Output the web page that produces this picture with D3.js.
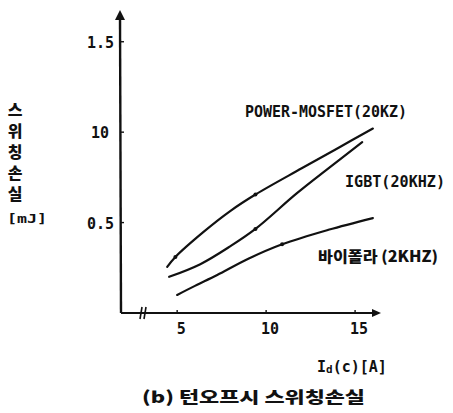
<!DOCTYPE html>
<html>
<head>
<meta charset="utf-8">
<script src="https://cdn.jsdelivr.net/npm/d3@7"></script>
<style>
  body { margin: 0; background: #fff; }
  svg { display: block; }
  .lbl { font-family: "DejaVu Sans Mono", monospace; font-weight: bold; fill: #111; }
  .kr { font-family: "Noto Sans CJK KR", sans-serif; font-weight: 900; fill: #111; }
</style>
</head>
<body>
<script>
// values: [Id (A), loss (mJ)]
const mosfet = [[4.44,0.255],[4.9,0.31],[6.5,0.45],[8.0,0.565],[9.4,0.655],[12,0.8],[14,0.91],[16,1.02]];
const igbt = [[4.55,0.2],[6.3,0.27],[8.0,0.37],[9.4,0.465],[11.7,0.66],[13.5,0.8],[15.4,0.945]];
const bipolar = [[5.0,0.1],[6.0,0.15],[7.25,0.21],[9.0,0.3],[10.9,0.38],[13.5,0.46],[16.0,0.525]];
// little marks drawn on the curves
const marks = [[4.9,0.31],[9.4,0.655],[9.4,0.465],[10.9,0.38]];

const xTicks = [5, 10, 15];
const xTickLabels = ["5", "10", "15"];
const yTicks = [0.5, 1.0, 1.5];
const yTickLabels = ["0.5", "10", "1.5"];

const seriesNames = ["POWER-MOSFET(20KZ)", "IGBT(20KHZ)", "바이폴라 (2KHZ)"];

const W = 453, H = 413;
const svg = d3.select("body").append("svg").attr("width", W).attr("height", H);

const x = d3.scaleLinear().domain([1.9, 16.4]).range([122, 380]);
const y = d3.scaleLinear().domain([0, 1.67]).range([313, 11]);

// axes
const ax = svg.append("g").attr("stroke", "#111").attr("fill", "none");
ax.append("line").attr("x1", 121).attr("y1", y(0)).attr("x2", 120).attr("y2", y(1.67) + 4).attr("stroke-width", 2.4);
ax.append("line").attr("x1", 121).attr("y1", y(0)).attr("x2", x(16.4) - 4).attr("y2", y(0)).attr("stroke-width", 2.2);
// arrow heads
svg.append("path").attr("fill", "#111")
  .attr("d", `M${120},${y(1.67)-1} L${115},${y(1.67)+9} L${125},${y(1.67)+9} Z`);
svg.append("path").attr("fill", "#111")
  .attr("d", `M${x(16.4)+1},${y(0)} L${x(16.4)-8},${y(0)-4} L${x(16.4)-8},${y(0)+4} Z`);
// axis break
ax.append("line").attr("x1", 140).attr("y1", y(0)+6).attr("x2", 142).attr("y2", y(0)-6).attr("stroke-width", 1.6);
ax.append("line").attr("x1", 144).attr("y1", y(0)+6).attr("x2", 146).attr("y2", y(0)-6).attr("stroke-width", 1.6);

// ticks
xTicks.forEach((t, i) => {
  ax.append("line").attr("x1", x(t)).attr("x2", x(t)).attr("y1", y(0)).attr("y2", y(0) - 3).attr("stroke-width", 1.4);
  svg.append("text").attr("class", "lbl").attr("x", x(t) + 4).attr("y", 334)
    .attr("text-anchor", "middle").attr("font-size", 15).text(xTickLabels[i]);
});
yTicks.forEach((t, i) => {
  ax.append("line").attr("x1", 120).attr("x2", 124).attr("y1", y(t)).attr("y2", y(t)).attr("stroke-width", 1.4);
  svg.append("text").attr("class", "lbl").attr("x", i === 1 ? 109 : 114).attr("y", y(t) + 6)
    .attr("text-anchor", "end").attr("font-size", 15).text(yTickLabels[i]);
});

// curves
const line = d3.line().x(d => x(d[0])).y(d => y(d[1])).curve(d3.curveCatmullRom.alpha(0.5));
[mosfet, igbt, bipolar].forEach(s => {
  svg.append("path").attr("d", line(s)).attr("fill", "none")
    .attr("stroke", "#111").attr("stroke-width", 2.2).attr("stroke-linecap", "round");
});
svg.selectAll("circle.mk").data(marks).enter().append("circle")
  .attr("cx", d => x(d[0])).attr("cy", d => y(d[1])).attr("r", 2).attr("fill", "#111");

// series labels
svg.append("text").attr("class", "lbl").attr("x", 245).attr("y", 117).attr("font-size", 15)
  .attr("textLength", 162).attr("lengthAdjust", "spacingAndGlyphs").text(seriesNames[0]);
svg.append("text").attr("class", "lbl").attr("x", 345).attr("y", 187).attr("font-size", 15)
  .attr("textLength", 100).attr("lengthAdjust", "spacingAndGlyphs").text(seriesNames[1]);
svg.append("text").attr("class", "kr").attr("x", 318).attr("y", 262).attr("font-size", 15)
  .attr("textLength", 120).attr("lengthAdjust", "spacingAndGlyphs").text(seriesNames[2]);

// y label, one vertical text
svg.append("text").attr("class", "kr")
  .attr("x", 15).attr("y", 102)
  .attr("font-size", 16)
  .style("writing-mode", "vertical-rl")
  .style("text-orientation", "upright")
  .style("letter-spacing", "5px")
  .text("스위칭손실");
svg.append("text").attr("class", "lbl").attr("x", 7).attr("y", 223).attr("font-size", 13)
  .attr("textLength", 40).attr("lengthAdjust", "spacingAndGlyphs").text("[mJ]");

// x label
const xl = svg.append("text").attr("class", "lbl").attr("x", 317).attr("y", 372).attr("font-size", 15);
xl.append("tspan").text("I");
xl.append("tspan").attr("font-size", 11).attr("dy", 1).text("d");
xl.append("tspan").attr("dy", -1).text("(c)[A]");

// caption
svg.append("text").attr("class", "kr").attr("x", 142).attr("y", 403).attr("font-size", 16)
  .attr("textLength", 223).attr("lengthAdjust", "spacingAndGlyphs").text("(b) 턴오프시 스위칭손실");
</script>
</body>
</html>
